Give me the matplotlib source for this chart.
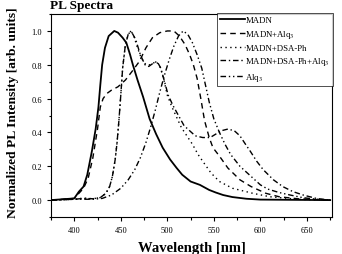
import numpy as np
import matplotlib
matplotlib.use('Agg')
import matplotlib.pyplot as plt

plt.rcParams['font.family'] = ['Liberation Serif', 'DejaVu Serif']
plt.rcParams['mathtext.fontset'] = 'stix'

# MADN (solid)
madn_x = [375, 400, 405, 410, 414, 419, 423, 426, 428, 430, 433, 437, 443, 447, 452, 456,
          460, 463, 468, 474, 481, 488, 495, 503, 510, 516, 525, 535, 545, 552, 560, 570,
          585, 600, 675]
madn_y = [0, 0.01, 0.05, 0.08, 0.15, 0.29, 0.42, 0.55, 0.68, 0.8, 0.9, 0.97, 1.0, 0.99, 0.96, 0.93,
          0.86, 0.8, 0.71, 0.61, 0.48, 0.39, 0.31, 0.24, 0.19, 0.15, 0.11, 0.09, 0.06, 0.045, 0.03, 0.018,
          0.008, 0.003, 0]

# MADN+Alq3 (dashed)
madn_alq_x = [375, 400, 405, 410, 415, 420, 425, 428, 431, 435, 440, 447, 455, 462, 470, 477,
              484, 492, 500, 507, 513, 519, 524, 528, 532, 536, 540, 545, 549, 556, 565, 578,
              590, 606, 620, 640, 675]
madn_alq_y = [0, 0.01, 0.04, 0.07, 0.13, 0.25, 0.42, 0.55, 0.6, 0.63, 0.65, 0.67, 0.71, 0.76, 0.82, 0.9,
              0.96, 0.99, 1.0, 1.0, 0.97, 0.92, 0.86, 0.8, 0.72, 0.6, 0.47, 0.37, 0.31, 0.26, 0.19, 0.12,
              0.08, 0.04, 0.02, 0.008, 0]

# MADN+DSA-Ph (dotted)
dsa_x = [375, 400, 410, 420, 428, 434, 438, 441, 444, 446, 448, 450, 452, 455, 458, 461,
         464, 468, 472, 477, 482, 488, 492, 496, 500, 505, 510, 515, 521, 527, 533, 538,
         547, 556, 570, 592, 610, 640, 675]
dsa_y = [0, 0.005, 0.012, 0.008, 0.015, 0.04, 0.08, 0.14, 0.24, 0.34, 0.47, 0.62, 0.78, 0.92, 0.98, 1.0,
         0.97, 0.9, 0.84, 0.8, 0.8, 0.82, 0.79, 0.72, 0.62, 0.55, 0.49, 0.43, 0.38, 0.33, 0.27, 0.23,
         0.16, 0.11, 0.07, 0.04, 0.02, 0.005, 0]

# MADN+DSA-Ph+Alq3 (dash-dot)
dsa_alq_x = [375, 400, 410, 420, 428, 434, 438, 441, 444, 446, 448, 450, 452, 455, 458, 461,
             466, 471, 476, 480, 485, 489, 493, 497, 501, 506, 512, 518, 524, 530, 538, 546,
             552, 558, 565, 572, 578, 584, 589, 596, 603, 614, 624, 635, 646, 660, 675]
dsa_alq_y = [0, 0.005, 0.01, 0.008, 0.015, 0.04, 0.08, 0.14, 0.24, 0.34, 0.47, 0.62, 0.78, 0.92, 0.98, 1.0,
             0.95, 0.86, 0.8, 0.79, 0.81, 0.82, 0.78, 0.7, 0.62, 0.56, 0.5, 0.44, 0.41, 0.38, 0.37, 0.37,
             0.39, 0.41, 0.42, 0.41, 0.38, 0.33, 0.29, 0.23, 0.18, 0.12, 0.08, 0.05, 0.03, 0.01, 0]

# Alq3 (dash-dot-dot)
alq_x = [375, 400, 420, 430, 440, 450, 458, 465, 471, 477, 482, 487, 492, 497, 502, 507,
         512, 517, 522, 527, 532, 537, 541, 545, 550, 556, 562, 568, 578, 590, 600, 608,
         620, 632, 645, 660, 675]
alq_y = [0, 0.005, 0.005, 0.01, 0.03, 0.07, 0.12, 0.18, 0.25, 0.34, 0.43, 0.53, 0.64, 0.74, 0.83, 0.91,
         0.97, 1.0, 0.98, 0.93, 0.86, 0.78, 0.68, 0.58, 0.48, 0.4, 0.33, 0.27, 0.2, 0.14, 0.09, 0.065,
         0.045, 0.03, 0.015, 0.005, 0]

fig = plt.figure(figsize=(3.42, 2.55), dpi=100)
ax = fig.add_axes([0.149, 0.145, 0.822, 0.796])

lw = 1.0
ax.plot(madn_x, madn_y, color='black', lw=1.3, ls='-', label='MADN')
ax.plot(madn_alq_x, madn_alq_y, color='black', lw=lw, ls=(0, (4, 3)), label='MADN+Alq$_3$')
ax.plot(dsa_x, dsa_y, color='black', lw=lw, ls=(0, (1, 2.5)), label='MADN+DSA-Ph')
ax.plot(dsa_alq_x, dsa_alq_y, color='black', lw=lw, ls=(0, (4, 2, 1, 2)), label='MADN+DSA-Ph+Alq$_3$')
ax.plot(alq_x, alq_y, color='black', lw=lw, ls=(0, (4, 2, 1, 2, 1, 2)), label='Alq$_3$')

ax.set_xlim(375, 677)
ax.set_ylim(-0.1, 1.1)
ax.set_xticks(np.arange(400, 651, 50))
ax.set_xticks(np.arange(375, 676, 25), minor=True)
ax.set_yticks(np.arange(0, 1.01, 0.2))
ax.set_yticks(np.arange(-0.1, 1.11, 0.1), minor=True)
ax.yaxis.set_major_formatter(matplotlib.ticker.FormatStrFormatter('%.1f'))
ax.tick_params(which='both', direction='out', labelsize=6, width=0.8)
ax.tick_params(which='major', length=3)
ax.tick_params(which='minor', length=1.8)
for s in ax.spines.values():
    s.set_linewidth(0.8)

ax.set_xlabel('Wavelength [nm]', fontsize=10.5, fontweight='bold', labelpad=5)
fig.text(13 / 342, 1 - 112.5 / 255, 'Normalized PL Intensity [arb. units]', fontsize=9.7,
         fontweight='bold', rotation=90, ha='center', va='center')
fig.text(0.146, 0.975, 'PL Spectra', fontsize=9.5, fontweight='bold', ha='left', va='center')

leg = ax.legend(loc='upper left', bbox_to_anchor=(217 / 342, 1 - 14 / 255),
                bbox_transform=fig.transFigure, fontsize=6.3, frameon=True, fancybox=False,
                edgecolor='black', handlelength=2.8, handletextpad=0.1, borderpad=0.35,
                labelspacing=0.42, borderaxespad=0)
leg.get_frame().set_linewidth(0.6)

fig.savefig('out.png', dpi=100)
